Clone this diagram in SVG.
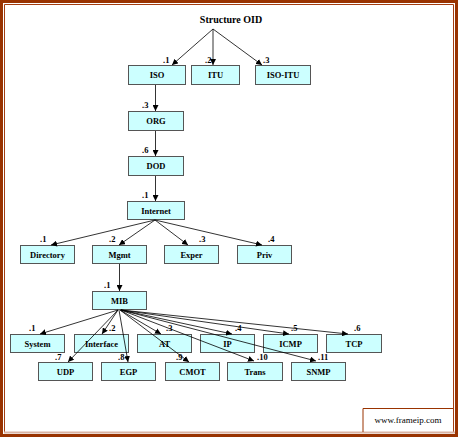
<svg xmlns="http://www.w3.org/2000/svg" width="458" height="437" viewBox="0 0 458 437">
<defs>
<marker id="ah" viewBox="0 0 10 10" refX="10" refY="5" markerWidth="6" markerHeight="6" markerUnits="userSpaceOnUse" orient="auto">
<path d="M0,0 L10,5 L0,10 z" fill="#000"/>
</marker>
<style>
.box{fill:#ccffff;stroke:#555;stroke-width:1}
.t{font-family:"Liberation Serif",serif;font-weight:bold;font-size:8.5px;text-anchor:middle;fill:#000}
.l{font-family:"Liberation Serif",serif;font-weight:bold;font-size:8.5px;fill:#000}
.c{stroke:#000;stroke-width:0.8;fill:none;marker-end:url(#ah)}
</style>
</defs>
<rect width="458" height="437" fill="#fff"/>
<g id="frame">
<rect x="1.5" y="1.5" width="455" height="434" fill="none" stroke="#993300" stroke-width="3"/>
<line x1="4.5" y1="4.5" x2="453.5" y2="4.5" stroke="#a33d10" stroke-width="1"/>
<line x1="4.5" y1="4.5" x2="4.5" y2="432" stroke="#a33d10" stroke-width="1"/>
<line x1="453.5" y1="4.5" x2="453.5" y2="432" stroke="#a33d10" stroke-width="1"/>
<line x1="4" y1="432.5" x2="455" y2="432.5" stroke="#d9b3a3" stroke-width="2"/>
</g>
<g id="watermark">
<polyline points="363,432 363,408.5 453,408.5" fill="none" stroke="#993300" stroke-width="1"/>
<text x="408" y="423" style="font-family:'Liberation Serif',serif;font-size:9px;text-anchor:middle;fill:#000">www.frameip.com</text>
</g>
<g id="root"><text class="t" x="231" y="23" style="font-size:10px">Structure OID</text></g>
<g id="iso"><rect class="box" x="128.5" y="65.5" width="57" height="19"/><text class="t" x="157" y="78">ISO</text><text class="l" x="163" y="63">.1</text></g>
<g id="itu"><rect class="box" x="191.5" y="65.5" width="48" height="19"/><text class="t" x="215.5" y="78">ITU</text><text class="l" x="205" y="63">.2</text></g>
<g id="isoitu"><rect class="box" x="255.5" y="65.5" width="55" height="19"/><text class="t" x="283" y="78">ISO-ITU</text><text class="l" x="263" y="63">.3</text></g>
<g id="org"><rect class="box" x="128.5" y="111.5" width="55" height="19"/><text class="t" x="156" y="124">ORG</text><text class="l" x="142" y="108">.3</text></g>
<g id="dod"><rect class="box" x="128.5" y="156.5" width="55" height="19"/><text class="t" x="156" y="169">DOD</text><text class="l" x="142" y="153">.6</text></g>
<g id="internet"><rect class="box" x="127.5" y="201.5" width="57" height="18"/><text class="t" x="156" y="213.5">Internet</text><text class="l" x="142" y="198">.1</text></g>
<g id="directory"><rect class="box" x="20.5" y="245.5" width="54" height="18"/><text class="t" x="47.5" y="257.5">Directory</text><text class="l" x="40" y="242">.1</text></g>
<g id="mgmt"><rect class="box" x="92.5" y="245.5" width="54" height="18"/><text class="t" x="119.5" y="257.5">Mgmt</text><text class="l" x="109" y="242">.2</text></g>
<g id="exper"><rect class="box" x="164.5" y="245.5" width="54" height="18"/><text class="t" x="191.5" y="257.5">Exper</text><text class="l" x="199" y="242">.3</text></g>
<g id="priv"><rect class="box" x="237.5" y="245.5" width="54" height="18"/><text class="t" x="264.5" y="257.5">Priv</text><text class="l" x="268" y="242">.4</text></g>
<g id="mib"><rect class="box" x="92.5" y="291.5" width="54" height="18"/><text class="t" x="119.5" y="303.5">MIB</text><text class="l" x="104" y="288">.1</text></g>
<g id="system"><rect class="box" x="10.5" y="334.5" width="54" height="18"/><text class="t" x="37.5" y="346.5">System</text><text class="l" x="29" y="331">.1</text></g>
<g id="interface"><rect class="box" x="74.5" y="334.5" width="54" height="18"/><text class="t" x="101.5" y="346.5">Interface</text><text class="l" x="109" y="331">.2</text></g>
<g id="at"><rect class="box" x="137.5" y="334.5" width="54" height="18"/><text class="t" x="164.5" y="346.5">AT</text><text class="l" x="166" y="331">.3</text></g>
<g id="ip"><rect class="box" x="200.5" y="334.5" width="54" height="18"/><text class="t" x="227.5" y="346.5">IP</text><text class="l" x="235" y="331">.4</text></g>
<g id="icmp"><rect class="box" x="263.5" y="334.5" width="54" height="18"/><text class="t" x="290.5" y="346.5">ICMP</text><text class="l" x="291" y="331">.5</text></g>
<g id="tcp"><rect class="box" x="326.5" y="334.5" width="55" height="18"/><text class="t" x="354" y="346.5">TCP</text><text class="l" x="354" y="331">.6</text></g>
<g id="udp"><rect class="box" x="38.5" y="362.5" width="54" height="18"/><text class="t" x="65.5" y="374.5">UDP</text><text class="l" x="55" y="360">.7</text></g>
<g id="egp"><rect class="box" x="101.5" y="362.5" width="54" height="18"/><text class="t" x="128.5" y="374.5">EGP</text><text class="l" x="118" y="360">.8</text></g>
<g id="cmot"><rect class="box" x="165.5" y="362.5" width="54" height="18"/><text class="t" x="192.5" y="374.5">CMOT</text><text class="l" x="176" y="360">.9</text></g>
<g id="trans"><rect class="box" x="227.5" y="362.5" width="55" height="18"/><text class="t" x="255" y="374.5">Trans</text><text class="l" x="257" y="360">.10</text></g>
<g id="snmp"><rect class="box" x="291.5" y="362.5" width="54" height="18"/><text class="t" x="318.5" y="374.5">SNMP</text><text class="l" x="318" y="360">.11</text></g>
<g id="connectors">
<line class="c" x1="213" y1="29" x2="172" y2="65"/>
<line class="c" x1="213" y1="29" x2="213" y2="65"/>
<line class="c" x1="213" y1="29" x2="262" y2="65"/>
<line class="c" x1="155.5" y1="85" x2="155.5" y2="111"/>
<line class="c" x1="155.5" y1="131" x2="155.5" y2="156"/>
<line class="c" x1="155.5" y1="176" x2="155.5" y2="201"/>
<line class="c" x1="155" y1="220" x2="51" y2="245"/>
<line class="c" x1="155" y1="220" x2="119" y2="245"/>
<line class="c" x1="155" y1="220" x2="188" y2="245"/>
<line class="c" x1="155" y1="220" x2="262" y2="245"/>
<line class="c" x1="119.5" y1="264" x2="119.5" y2="291"/>
<line class="c" x1="118" y1="310" x2="40" y2="334"/>
<line class="c" x1="118" y1="310" x2="102" y2="334"/>
<line class="c" x1="120" y1="310" x2="161" y2="334"/>
<line class="c" x1="121" y1="310" x2="232" y2="334"/>
<line class="c" x1="121" y1="310" x2="289" y2="334"/>
<line class="c" x1="121" y1="310" x2="348" y2="334"/>
<line class="c" x1="118" y1="310" x2="68" y2="362"/>
<line class="c" x1="119" y1="310" x2="128" y2="362"/>
<line class="c" x1="120" y1="310" x2="189" y2="362"/>
<line class="c" x1="121" y1="310" x2="254" y2="361"/>
<line class="c" x1="121" y1="310" x2="316" y2="361"/>
</g>
</svg>
